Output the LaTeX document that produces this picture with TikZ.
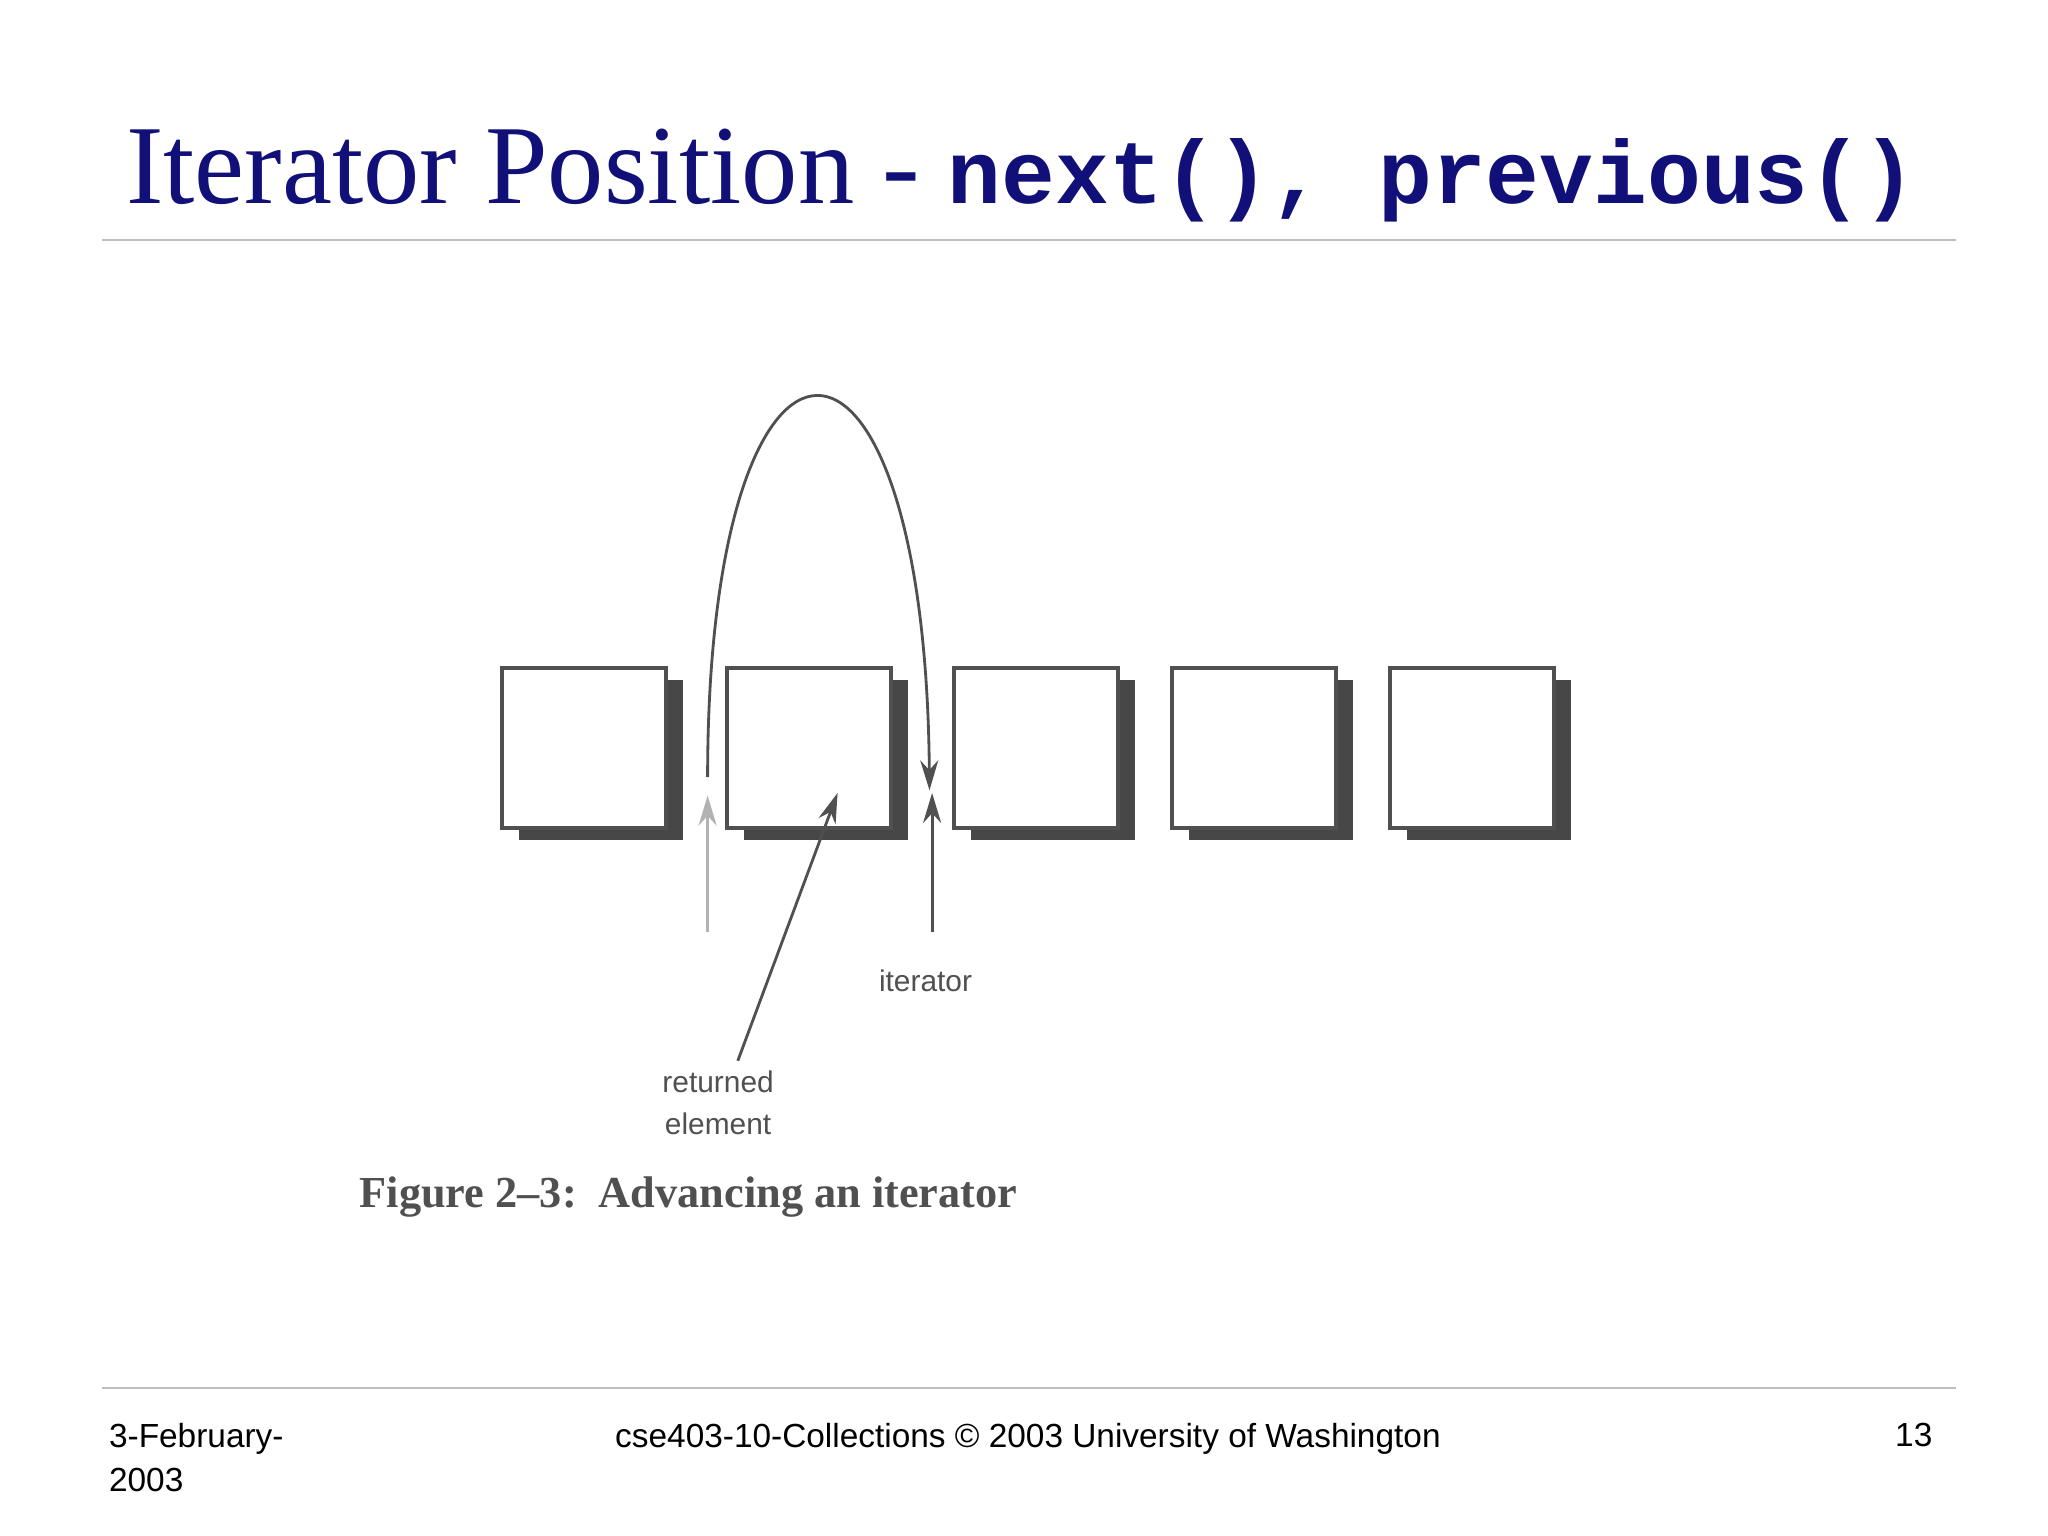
\documentclass[tikz,border=0pt]{standalone}
\usepackage{fontspec}
\setmainfont{Liberation Serif}
\setsansfont{Liberation Sans}
\setmonofont{Liberation Mono}
\usetikzlibrary{arrows.meta}
\usetikzlibrary{shadows}
\definecolor{navy}{RGB}{16,16,120}
\definecolor{rulegray}{RGB}{190,190,190}
\definecolor{figgray}{RGB}{80,80,80}
\begin{document}
\begin{tikzpicture}[x=0.013128cm, y=-0.013128cm, >={Stealth[length=0.3cm,width=0.18cm]}, thick,
    cell/.style = {draw=figgray, line width=1.2pt, fill=white, minimum width=1.64cm, minimum height=1.6cm, inner sep=0pt,
      drop shadow={shadow xshift=0.17cm, shadow yshift=-0.12cm, fill=black!72, opacity=1}},
    label/.style = {font=\sffamily\fontsize{8.5}{12}\selectfont, text=figgray, align=center},
    foot/.style = {font=\sffamily\fontsize{9.5}{12.5}\selectfont, align=left}]
    % Frame
    \fill[white] (0,0) rectangle (1560,1170);
    \useasboundingbox (0,0) rectangle (1560,1170);

    % Title
    \node[anchor=base west, inner sep=0pt, text=navy] (title) at (95,155)
      {\fontsize{32}{36}\selectfont Iterator Position - \texttt{\bfseries\fontsize{25.5}{30}\selectfont next(), previous()}};
    \draw[rulegray, line width=0.6pt] (78,183) -- (1490,183);

    % Cells
    \node[cell] (c1) at (445,570) {};
    \node[cell] (c2) at (616,570) {};
    \node[cell] (c3) at (789,570) {};
    \node[cell] (c4) at (955,570) {};
    \node[cell] (c5) at (1121,570) {};

    % Arrows
    \coordinate (arcstart) at (539,592);
    \coordinate (arcend) at (708,602);
    \coordinate (oldtail) at (539,710);
    \coordinate (oldhead) at (539,606);
    \coordinate (ittail) at (710,710);
    \coordinate (ithead) at (710,604);
    \draw[->, figgray] (arcstart) .. controls (539,205) and (705,205) .. (arcend);
    \draw[->, black!30] (oldtail) -- (oldhead);
    \draw[->, figgray] (ittail) -- (ithead);

    % Labels
    \node[label] (it) at (705,747) {iterator};
    \node[label] (ret) at (547,840) {returned\\element};
    \draw[->, figgray] (562,808) -- (638,604);
    \node[anchor=base west, inner sep=0pt, text=figgray] (cap) at (273,920)
      {\bfseries\fontsize{12.6}{16}\selectfont Figure 2--3:\ \ Advancing an iterator};

    % Footer
    \draw[rulegray, line width=0.6pt] (78,1057) -- (1490,1057);
    \node[foot, anchor=north west, inner sep=0pt] (date) at (82,1083) {3-February-\\2003};
    \node[foot, anchor=north, inner sep=0pt] (course) at (783,1083) {cse403-10-Collections © 2003 University of Washington};
    \node[foot, anchor=north east, inner sep=0pt] (page) at (1473,1083) {13};
\end{tikzpicture}
\end{document}
